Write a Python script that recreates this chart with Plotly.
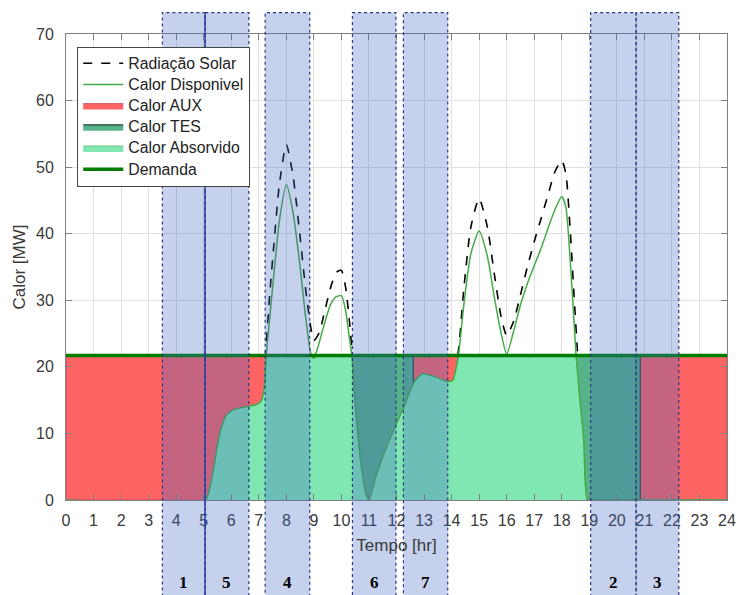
import plotly.graph_objects as go

# ---------------- data ----------------
demanda_mw = 21.7

disp_horas = [0, 5.06, 5.2, 5.35, 5.5, 5.65, 5.8, 6.0, 6.3, 6.65, 6.95, 7.1, 7.2, 7.27, 7.4, 7.55,
              7.75, 8.0, 8.25, 8.5, 8.7, 8.9, 9.0, 9.15, 9.35, 9.6, 9.8, 10.0, 10.15, 10.3, 10.38,
              10.5, 10.7, 10.88, 11.0, 11.25, 11.6, 11.95, 12.3, 12.65, 12.95, 13.4, 13.85, 14.05,
              14.16, 14.25, 14.45, 14.7, 15.0, 15.3, 15.55, 15.8, 16.0, 16.25, 16.5, 16.75, 17.0,
              17.25, 17.5, 17.75, 18.0, 18.15, 18.3, 18.45, 18.52, 18.65, 18.8, 18.94, 19.2, 24]
disp_mw = [0, 0, 1.5, 4.5, 8.3, 11.0, 12.6, 13.4, 13.8, 14.1, 14.4, 15.0, 17.0, 21.7, 27.5, 34.0,
           42.0, 47.4, 43.0, 35.0, 27.5, 21.8, 21.3, 23.0, 26.0, 29.3, 30.5, 30.7, 28.5, 24.0, 21.7,
           14.5, 5.8, 1.2, 0, 3.5, 7.6, 11.0, 14.3, 17.8, 19.0, 18.5, 17.8, 18.0,
           19.8, 21.7, 29.5, 37.0, 40.4, 36.6, 30.5, 25.0, 21.9, 25.3, 29.3, 32.5, 35.2,
           37.8, 40.8, 43.6, 45.6, 44.0, 36.5, 26.5, 21.7, 15.5, 9.0, 0, 0, 0]

rad_horas = [0, 5.06, 5.5, 6.0, 6.65, 7.0, 7.2, 7.24, 7.4, 7.55, 7.75, 8.0, 8.25, 8.5, 8.75, 9.0,
             9.2, 9.4, 9.65, 9.85, 10.0, 10.15, 10.3, 10.4, 10.6, 11.0, 11.6, 12.3, 13.0, 13.85,
             14.1, 14.22, 14.45, 14.7, 15.0, 15.3, 15.55, 15.8, 16.0, 16.25, 16.5, 16.75, 17.0,
             17.25, 17.5, 17.75, 18.0, 18.15, 18.3, 18.45, 18.58, 18.75, 18.94, 24]
rad_mw = [0, 0, 9.5, 15.0, 15.8, 16.5, 19.5, 21.7, 31.0, 38.5, 47.5, 53.4, 48.5, 39.5, 30.0, 24.0,
          25.2, 28.5, 32.5, 34.3, 34.5, 32.0, 26.5, 21.7, 12.0, 1.0, 8.5, 16.0, 20.5, 20.0,
          20.5, 21.7, 32.0, 41.0, 45.3, 41.0, 34.0, 27.5, 24.7, 26.8, 30.8, 35.0, 38.8,
          42.3, 45.8, 49.3, 51.0, 49.0, 41.0, 30.5, 21.7, 12.0, 0, 0]

aux_periodos = [(0, 7.27), (12.61, 14.25), (20.85, 24)]
tes_periodos = [(10.38, 12.61), (18.52, 20.85)]

faixas = [("1", 3.5, 5.05), ("5", 5.05, 6.64), ("4", 7.23, 8.85), ("6", 10.4, 11.98),
          ("7", 12.25, 13.86), ("2", 19.05, 20.7), ("3", 20.7, 22.25)]
divisoria_solida = 5.05

# ---------------- styles ----------------
C_AUX = "rgb(255,100,100)"
C_TES = "rgb(86,178,136)"
C_ABS = "rgb(128,230,178)"
C_DISP = "rgb(70,170,70)"
C_DEM = "rgb(0,125,0)"
FONT = "Liberation Sans, Arial, sans-serif"
TXT = "#3a3a3a"


def nome(t):
    return "<span style='font-size:15.8px'>" + t + "</span>"


def retangulos(periodos, topo):
    xs, ys = [], []
    for a, b in periodos:
        xs += [a, b, b, a, a, None]
        ys += [0, 0, topo, topo, 0, None]
    return xs, ys


fig = go.Figure()

fig.add_trace(go.Scatter(x=rad_horas, y=rad_mw, mode="lines", name=nome("Radiação Solar"),
                         line=dict(color="black", width=1.6, dash="dash", shape="spline", smoothing=0.6),
                         legendrank=1))

ax, ay = retangulos(aux_periodos, demanda_mw)
fig.add_trace(go.Scatter(x=ax, y=ay, mode="lines", fill="toself", fillcolor=C_AUX, name=nome("Calor AUX"),
                         line=dict(color="rgb(200,70,80)", width=0.8), legendrank=3))
tx, ty = retangulos(tes_periodos, demanda_mw)
fig.add_trace(go.Scatter(x=tx, y=ty, mode="lines", fill="toself", fillcolor=C_TES, name=nome("Calor TES"),
                         line=dict(color="rgb(35,70,55)", width=1.2), legendrank=4))

abs_mw = [min(v, demanda_mw) for v in disp_mw]
fig.add_trace(go.Scatter(x=disp_horas, y=abs_mw, mode="lines", fill="tozeroy", fillcolor=C_ABS,
                         name=nome("Calor Absorvido"),
                         line=dict(color="rgb(90,185,120)", width=0.8, shape="spline", smoothing=0.6),
                         legendrank=5))

fig.add_trace(go.Scatter(x=disp_horas, y=disp_mw, mode="lines", name=nome("Calor Disponivel"),
                         line=dict(color=C_DISP, width=1.5, shape="spline", smoothing=0.6),
                         legendrank=2))

fig.add_trace(go.Scatter(x=[0, 24], y=[demanda_mw, demanda_mw], mode="lines", name=nome("Demanda"),
                         line=dict(color=C_DEM, width=3.5), legendrank=6))

# bands
shapes = []
annotations = []
for lab, a, b in faixas:
    shapes.append(dict(type="rect", xref="x", yref="paper", x0=a, x1=b, y0=-0.215, y1=1.046,
                       fillcolor="rgba(62,102,197,0.3)", layer="above",
                       line=dict(color="rgb(40,55,130)", width=1.2, dash="dot")))
    annotations.append(dict(x=(a + b) / 2, y=-0.176, xref="x", yref="paper", text=lab,
                            showarrow=False, yanchor="middle",
                            font=dict(family="Liberation Serif, Times New Roman, serif",
                                      size=17, color="black", weight="bold")))
shapes.append(dict(type="line", xref="x", yref="paper", x0=divisoria_solida, x1=divisoria_solida,
                   y0=-0.215, y1=1.046, layer="above", line=dict(color="rgb(45,70,160)", width=1.5)))

fig.update_layout(
    width=746, height=595,
    margin=dict(l=66, r=10, t=34, b=95),
    paper_bgcolor="white", plot_bgcolor="white",
    font=dict(family=FONT, color=TXT, size=16),
    shapes=shapes, annotations=annotations,
    legend=dict(x=0.017, y=0.973, xanchor="left", yanchor="top", bgcolor="white",
                bordercolor="#444", borderwidth=1, font=dict(size=14, color="#222"),
                itemwidth=40, traceorder="normal", tracegroupgap=0),
    showlegend=True,
)
fig.update_xaxes(range=[0, 24], dtick=1, tick0=0, showgrid=True, gridcolor="#e0e0e0",
                 ticks="inside", ticklen=6, tickcolor="#808080", showline=True, linecolor="#808080",
                 mirror="ticks", zeroline=False, ticklabelstandoff=6,
                 title=dict(text="Tempo [hr]", standoff=10, font=dict(size=17)),
                 tickfont=dict(size=16))
fig.update_yaxes(range=[0, 70], dtick=10, tick0=0, showgrid=True, gridcolor="#e0e0e0",
                 ticks="inside", ticklen=6, tickcolor="#808080", showline=True, linecolor="#808080",
                 mirror="ticks", zeroline=False, ticklabelstandoff=8,
                 title=dict(text="Calor [MW]", standoff=6, font=dict(size=17)),
                 tickfont=dict(size=16))

fig.write_html("out.html")
